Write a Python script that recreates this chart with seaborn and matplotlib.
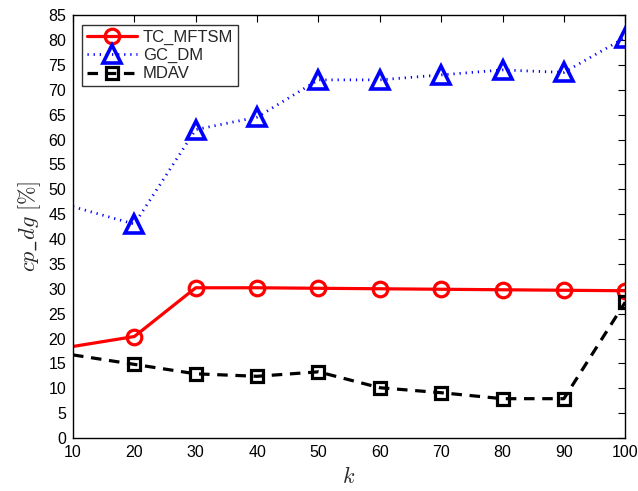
import matplotlib
matplotlib.use("Agg")
import matplotlib.pyplot as plt
from matplotlib.lines import Line2D
import seaborn as sns
import pandas as pd

k_values = [10, 20, 30, 40, 50, 60, 70, 80, 90, 100]
tc_mftsm = [18.4, 20.4, 30.2, 30.2, 30.1, 30.0, 29.9, 29.8, 29.7, 29.6]
gc_dm = [46.5, 43.0, 62.0, 64.5, 72.0, 72.0, 73.0, 74.0, 73.5, 80.5]
mdav = [16.7, 14.8, 12.9, 12.4, 13.3, 10.1, 9.1, 7.9, 7.9, 27.3]

x_ticks = list(range(10, 101, 10))
y_ticks = list(range(0, 86, 5))

sns.set_style("white")
plt.rcParams["font.family"] = ["Liberation Sans", "DejaVu Sans"]
plt.rcParams["mathtext.fontset"] = "cm"

df = pd.DataFrame({"k": k_values, "TC_MFTSM": tc_mftsm,
                   "GC_DM": gc_dm, "MDAV": mdav})

styles = {
    "TC_MFTSM": dict(color="#ff0000", linewidth=2.3, linestyle="-",
                     marker="o", markersize=10.5, markeredgewidth=2.3),
    "GC_DM": dict(color="#0000ff", linewidth=2.0, linestyle=(0, (0.45, 1.75)),
                  marker="^", markersize=12.5, markeredgewidth=2.6),
    "MDAV": dict(color="black", linewidth=2.3, linestyle=(0, (3.3, 2.4)),
                 marker="s", markersize=8.5, markeredgewidth=2.3),
}

fig = plt.figure(figsize=(6.38, 4.91), dpi=100)
ax = fig.add_axes([0.1144, 0.108, 0.8656, 0.861])

marks = list(range(1, len(k_values)))
handles = []
for name, st in styles.items():
    sns.lineplot(data=df, x="k", y=name, ax=ax, markerfacecolor="none",
                 markeredgecolor=st["color"], markevery=marks, legend=False,
                 **st)
    handles.append(Line2D([], [], markerfacecolor="none",
                          markeredgecolor=st["color"], label=name, **st))

ax.set_xlim(10, 100)
ax.set_ylim(0, 85)
ax.set_xticks(x_ticks)
ax.set_yticks(y_ticks)
ax.tick_params(direction="in", length=5, width=0.8, top=True, right=True,
               labelsize=11.5, colors="black", pad=5)
for side in ax.spines.values():
    side.set_color("black")
    side.set_linewidth(1.0)

ax.set_xlabel(r"$k$", fontsize=16, labelpad=5)
ax.set_ylabel(r"$cp\_dg\ [\%]$", fontsize=16, labelpad=4)

leg = ax.legend(handles=handles, loc="upper left",
                bbox_to_anchor=(0.0165, 0.978),
                fontsize=12, frameon=True, fancybox=False,
                handlelength=3.0, borderpad=0.3, labelspacing=0.2,
                handletextpad=0.35, borderaxespad=0.0)
leg.get_frame().set_edgecolor("black")
leg.get_frame().set_linewidth(1.0)

fig.savefig("out.png", dpi=100)
